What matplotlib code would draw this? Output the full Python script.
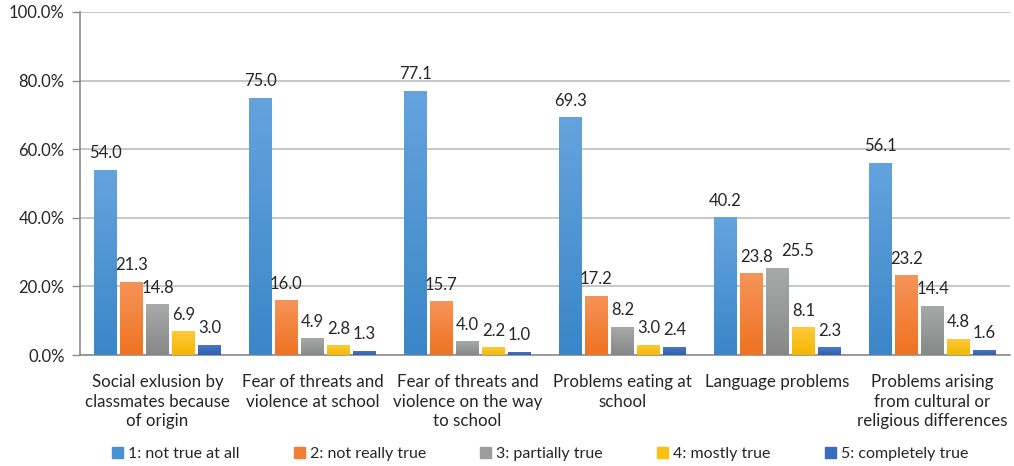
import numpy as np
import matplotlib
matplotlib.use("Agg")
import matplotlib.pyplot as plt
from matplotlib.colors import LinearSegmentedColormap

plt.rcParams['font.family'] = ['Lato', 'DejaVu Sans']

categories = [
    "Social exlusion by\nclassmates because\nof origin",
    "Fear of threats and\nviolence at school",
    "Fear of threats and\nviolence on the way\nto school",
    "Problems eating at\nschool",
    "Language problems",
    "Problems arising\nfrom cultural or\nreligious differences",
]
series_names = [
    "1: not true at all",
    "2: not really true",
    "3: partially true",
    "4: mostly true",
    "5: completely true",
]
values = [
    [54.0, 75.0, 77.1, 69.3, 40.2, 56.1],
    [21.3, 16.0, 15.7, 17.2, 23.8, 23.2],
    [14.8, 4.9, 4.0, 8.2, 25.5, 14.4],
    [6.9, 2.8, 2.2, 3.0, 8.1, 4.8],
    [3.0, 1.3, 1.0, 2.4, 2.3, 1.6],
]
yticks = [0, 20, 40, 60, 80, 100]

# (top colour, bottom colour) for each series' vertical gradient
gradients = [
    ("#65a3dd", "#3a86c8"),
    ("#f69458", "#ee7222"),
    ("#a8aaaa", "#878787"),
    ("#ffc93c", "#f4b700"),
    ("#4a7acb", "#2f60b0"),
]
legend_colors = ["#4a90d4", "#f07e35", "#9c9c9c", "#fcc010", "#3a6cbd"]

# horizontal nudges (in category units) for value labels that would collide
label_nudge = {(1, 4): 0.03, (2, 4): 0.13}

fig = plt.figure(figsize=(10.14, 4.66), dpi=100)
ax = fig.add_axes([80 / 1014, 1 - 355 / 466, 930 / 1014, 343 / 466])

n = len(series_names)
pitch = 0.168
width = 0.148
x = np.arange(len(categories))
fs = 12

for i in range(n):
    cmap = LinearSegmentedColormap.from_list(f"g{i}", [gradients[i][1], gradients[i][0]])
    offs = (i - (n - 1) / 2) * pitch
    bars = ax.bar(x + offs, values[i], width, color="none", edgecolor="none",
                  zorder=3, label=series_names[i])
    for j, (b, v) in enumerate(zip(bars, values[i])):
        x0 = b.get_x()
        grad = np.linspace(0, 1, 256).reshape(-1, 1)
        im = ax.imshow(grad, cmap=cmap, origin="lower", aspect="auto",
                       extent=[x0, x0 + width, 0, v], zorder=3,
                       interpolation="bicubic", vmin=0, vmax=1)
        im.set_clip_path(b)
        ax.text(x0 + width / 2 + label_nudge.get((i, j), 0), v + 2.5, f"{v:.1f}",
                ha="center", va="bottom", fontsize=fs, color="#262626", zorder=4)

ax.set_xlim(-0.5, len(categories) - 0.5)
ax.set_ylim(0, 100)
ax.set_yticks(yticks)
ax.set_yticklabels([f"{t:.1f}%" for t in yticks], fontsize=fs, color="#262626")
ax.set_xticks(x)
ax.set_xticklabels(categories, fontsize=12.2, color="#262626", linespacing=1.26)
ax.tick_params(axis="x", length=0, pad=14)
ax.tick_params(axis="y", length=6, width=1, color="#8c8c8c", pad=5)
ax.grid(axis="y", color="#bdbdbd", linewidth=1.2, zorder=0)
ax.set_axisbelow(True)
for s in ["top", "right"]:
    ax.spines[s].set_visible(False)
for s in ["left", "bottom"]:
    ax.spines[s].set_color("#8c8c8c")
    ax.spines[s].set_linewidth(1.2)

handles = [plt.Rectangle((0, 0), 1, 1, color=c) for c in legend_colors]
fig.legend(handles, series_names, loc="center", bbox_to_anchor=(540 / 1014, 1 - 454 / 466),
           ncol=5, frameon=False, fontsize=11.5, handlelength=0.7, handleheight=0.7,
           handletextpad=0.3, columnspacing=3.4, labelcolor="#262626")

fig.savefig("out.png", dpi=100)
